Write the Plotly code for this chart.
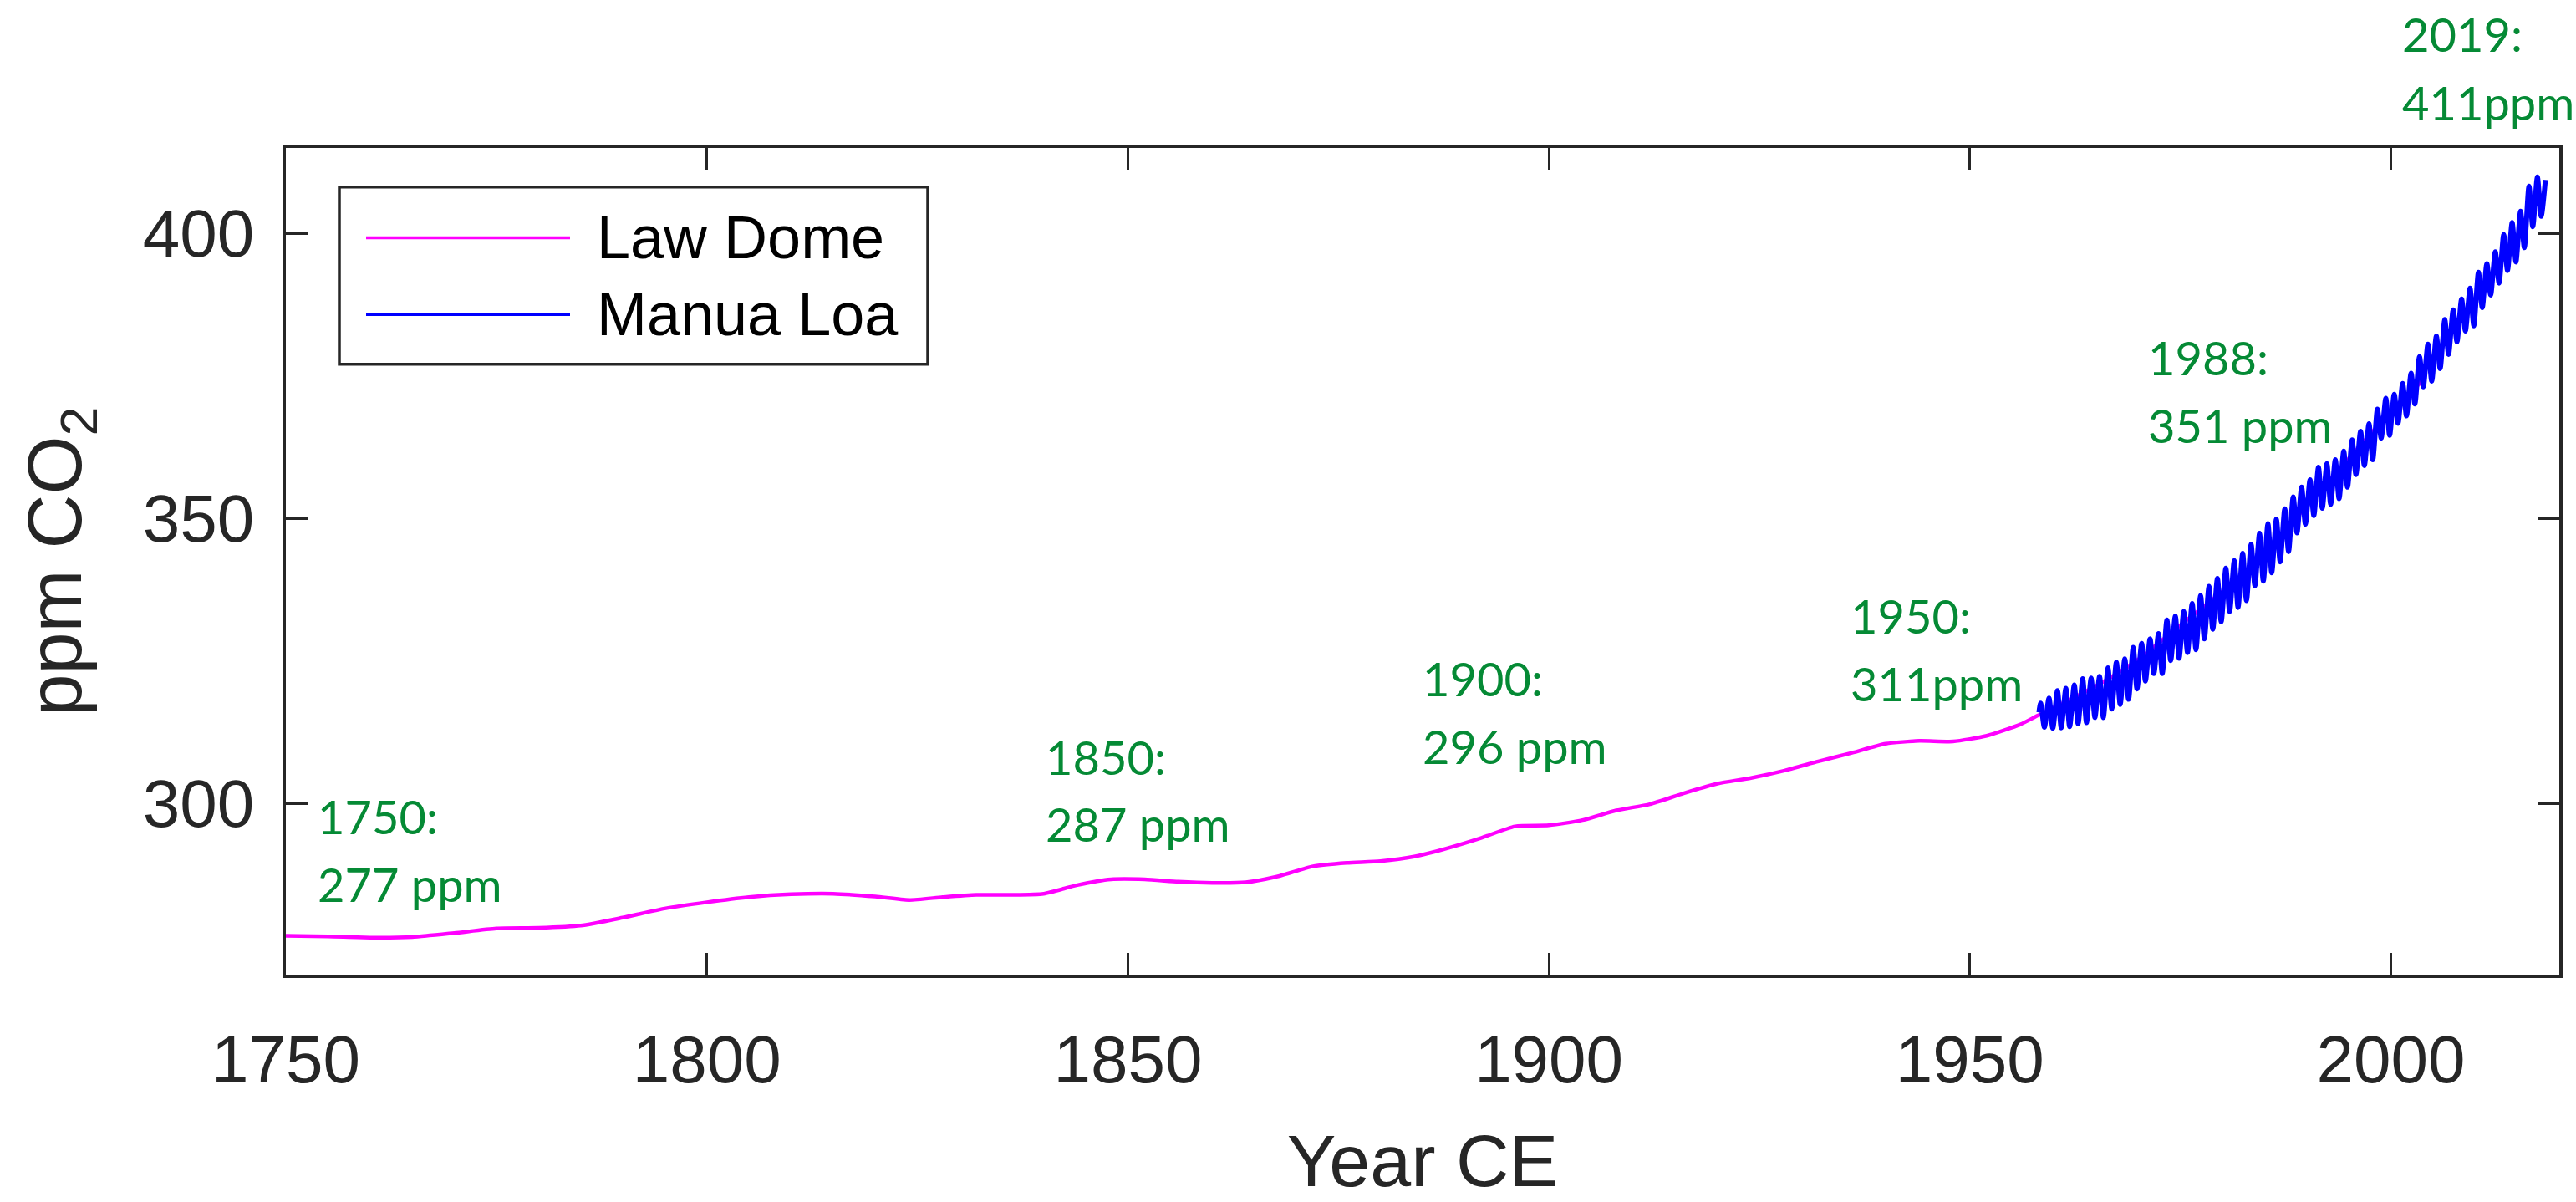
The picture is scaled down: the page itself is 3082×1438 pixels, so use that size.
import plotly.graph_objects as go

# ---------------- data ----------------
ld_year = [1750, 1755, 1760, 1765, 1770, 1775, 1780, 1785, 1790, 1795,
           1800, 1805, 1810, 1815, 1820, 1824, 1828, 1832, 1836, 1840,
           1844, 1848, 1852, 1856, 1860, 1864, 1868, 1872, 1876, 1880,
           1884, 1888, 1892, 1896, 1900, 1904, 1908, 1912, 1916, 1920,
           1924, 1928, 1932, 1936, 1940, 1944, 1948, 1952, 1956, 1958,
           1962, 1966, 1970, 1975, 1980, 1985, 1990, 1995, 2000, 2004]
ld_ppm = [276.8, 276.7, 276.5, 276.6, 277.3, 278.1, 278.2, 278.6, 280.0, 281.6,
          282.7, 283.6, 284.1, 284.2, 283.7, 283.1, 283.6, 284.0, 284.0, 284.2,
          285.7, 286.7, 286.7, 286.3, 286.1, 286.2, 287.3, 289.0, 289.6, 289.9,
          290.7, 292.2, 294.0, 296.0, 296.2, 297.1, 298.8, 299.9, 301.8, 303.5,
          304.5, 305.8, 307.4, 308.9, 310.5, 311.0, 310.9, 311.9, 313.9, 315.4,
          318.3, 321.5, 325.3, 331.3, 337.2, 343.5, 352.3, 360.5, 368.8, 374.5]

# Mauna Loa: seasonal maxima (spring) and minima (autumn) for 1958-2017
ml_years = list(range(1958, 2018))
ml_peak = [317.6, 318.5, 319.8, 320.2, 320.8, 321.9, 322.0, 322.3, 323.8, 324.8,
           325.4, 327.4, 328.1, 328.9, 329.8, 332.2, 332.9, 333.7, 335.1, 336.5,
           338.1, 339.5, 341.3, 342.6, 343.9, 345.5, 347.4, 349.1, 349.9, 351.7,
           353.8, 355.5, 356.8, 359.0, 359.6, 360.3, 361.8, 363.8, 365.3, 366.6,
           369.2, 371.1, 371.8, 373.7, 375.5, 378.4, 380.6, 382.0, 384.9, 386.6,
           388.5, 390.4, 393.2, 394.7, 396.8, 399.8, 401.9, 403.9, 408.3, 409.9]
ml_trough = [313.4, 313.2, 313.3, 313.5, 314.0, 314.2, 315.1, 315.1, 316.6, 317.4,
             318.3, 320.1, 321.5, 322.8, 322.8, 325.1, 325.5, 326.5, 327.0, 328.9,
             330.6, 331.9, 333.7, 334.4, 335.6, 338.2, 339.0, 340.5, 342.4, 344.2,
             347.5, 349.0, 350.5, 351.8, 352.5, 353.5, 355.5, 357.7, 359.3, 360.3,
             364.1, 364.6, 366.7, 368.0, 370.1, 373.1, 374.1, 376.3, 378.8, 381.0,
             382.9, 383.8, 387.0, 389.2, 391.3, 393.5, 395.0, 397.5, 401.2, 403.0]
ml_start = (1958.2, 316.0)
ml_end = (2018.35, 409.4)

x_ticks = [1750, 1800, 1850, 1900, 1950, 2000]
y_ticks = [300, 350, 400]

# callouts: (first line, second line)
ann_line1 = ["1750:", "1850:", "1900:", "1950:", "1988:", "2019:"]
ann_line2 = ["277 ppm", "287 ppm", "296 ppm", "311ppm", "351 ppm", "411ppm"]

# ---------------- layout geometry (pixels) ----------------
W, H = 3082, 1438
PL, PR, PT, PB = 342, 3062, 177, 1190
PW, PH = PR - PL, PB - PT

def px(x):
    return (x - PL) / PW

def py(y):
    return (PB - y) / PH

# callout placement: left edge and vertical anchor of each line (pixels)
ann_left = [378, 1249, 1700, 2212, 2568, 2872]
ann_mid1 = [996, 923, 827, 750, 434, 37]
ann_mid2 = [1079, 1005, 910, 833, 517, 121]

# ---------------- build series ----------------
ml_x = [ml_start[0]]
ml_y = [ml_start[1]]
for yr, pk, tr in zip(ml_years, ml_peak, ml_trough):
    ml_x += [yr + 0.40, yr + 0.85]
    ml_y += [pk, tr]
ml_x.append(ml_end[0])
ml_y.append(ml_end[1])

AX = "#262626"
GREEN = "#058A35"
FONT = "Liberation Sans, Arial, sans-serif"
NARROW = "Lato, sans-serif"

fig = go.Figure()
fig.add_trace(go.Scatter(x=ld_year, y=ld_ppm, mode="lines", name="Law Dome",
                         line=dict(color="#FF00FF", width=4.5, shape="spline", smoothing=0.6),
                         showlegend=False))
fig.add_trace(go.Scatter(x=ml_x, y=ml_y, mode="lines", name="Manua Loa",
                         line=dict(color="#0000FF", width=6, shape="spline", smoothing=0.7),
                         showlegend=False))

axis_common = dict(showline=True, linecolor=AX, linewidth=3.5, mirror="ticks",
                   ticks="inside", ticklen=26, tickwidth=3, tickcolor=AX,
                   showgrid=False, zeroline=False,
                   tickfont=dict(family=FONT, size=80, color=AX))

fig.update_xaxes(range=[1750, 2020], tickvals=x_ticks, ticklabelstandoff=29,
                 title=dict(text="Year CE", font=dict(family=FONT, size=88, color=AX),
                            standoff=53),
                 **axis_common)
fig.update_yaxes(range=[270, 415], tickvals=y_ticks, ticklabelstandoff=18,
                 title=dict(text="ppm CO<sub>2</sub>", font=dict(family=FONT, size=90, color=AX),
                            standoff=44),
                 **axis_common)

for t1, t2, xl, m1, m2 in zip(ann_line1, ann_line2, ann_left, ann_mid1, ann_mid2):
    for txt, mid in ((t1, m1), (t2, m2)):
        fig.add_annotation(x=px(xl), y=py(mid), xref="paper", yref="paper", text=txt,
                           showarrow=False, xanchor="left", yanchor="middle", align="left",
                           font=dict(family=NARROW, size=56, color=GREEN))

# ---------------- legend (drawn box, long line samples) ----------------
fig.add_shape(type="rect", xref="paper", yref="paper",
              x0=px(406), x1=px(1110), y0=py(442), y1=py(225),
              line=dict(color=AX, width=3.5), fillcolor="white")
legend_items = [("Law Dome", "#FF00FF", 287), ("Manua Loa", "#0000FF", 381)]
for name, col, yy in legend_items:
    fig.add_shape(type="line", xref="paper", yref="paper",
                  x0=px(438), x1=px(682), y0=py(yy), y1=py(yy),
                  line=dict(color=col, width=3.5))
    fig.add_annotation(x=px(712), y=py(yy), xref="paper", yref="paper", text=name,
                       showarrow=False, xanchor="left", yanchor="middle",
                       font=dict(family=FONT, size=72, color="black"))

fig.update_layout(width=W, height=H,
                  margin=dict(l=PL, r=W - PR, t=PT, b=H - PB),
                  paper_bgcolor="white", plot_bgcolor="white",
                  font=dict(family=FONT, color=AX),
                  showlegend=False)

fig.write_html("out.html")
